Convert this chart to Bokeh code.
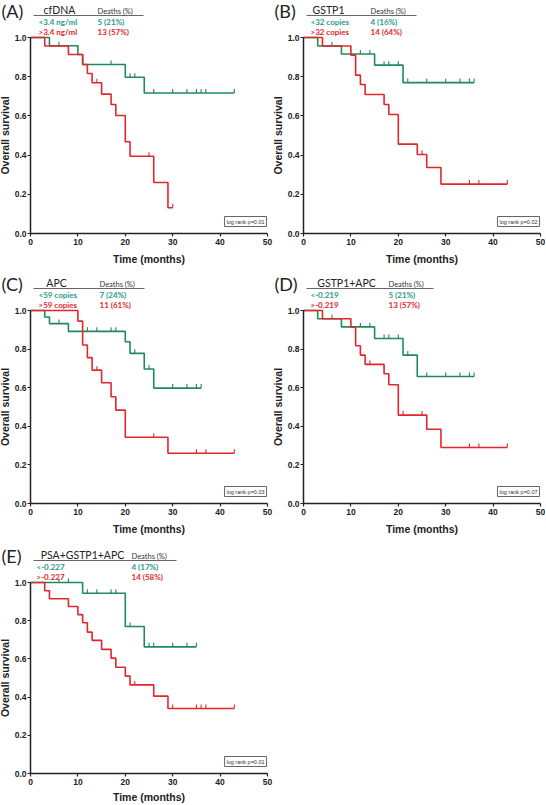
import numpy as np
from bokeh.plotting import figure
from bokeh.models import Range1d, Label, Arrow, FixedTicker, PrintfTickFormatter
from bokeh.layouts import column, row
from bokeh.embed import file_html
from bokeh.resources import INLINE

GREEN = "#1f8a5b"
RED = "#e3262b"
GREEN_TXT = "#2b9987"
RED_TXT = "#e3262b"

X_TICKS = [0, 10, 20, 30, 40, 50]
Y_TICKS = [0.0, 0.2, 0.4, 0.6, 0.8, 1.0]

# ---- Panel A: cfDNA ----
A_G_T = [4, 10, 11, 20, 24]
A_G_S = [0.958, 0.913, 0.862, 0.797, 0.717]
A_G_C = [6, 17, 21, 22, 26, 30, 33, 35, 36, 37, 43]
A_G_END = 43
A_R_T = [3, 8, 11, 12, 13, 15, 17, 18, 20, 21, 26, 29]
A_R_S = [0.957, 0.913, 0.862, 0.816, 0.769, 0.711, 0.658, 0.602, 0.468, 0.394, 0.260, 0.131]
A_R_C = [14, 25, 30]
A_R_END = 30

# ---- Panel B: GSTP1 ----
B_G_T = [3, 8, 15, 21]
B_G_S = [0.957, 0.916, 0.859, 0.770]
B_G_C = [6, 12, 14, 17, 18, 20, 22, 26, 30, 33, 35, 36]
B_G_END = 36
B_R_T = [4, 10, 11, 12, 13, 17, 18, 20, 24, 26, 29]
B_R_S = [0.957, 0.910, 0.808, 0.760, 0.709, 0.658, 0.607, 0.456, 0.403, 0.337, 0.252]
B_R_C = [25, 35, 37, 43]
B_R_END = 43

# ---- Panel C: APC ----
C_G_T = [3, 4, 8, 20, 21, 24, 26]
C_G_S = [0.966, 0.932, 0.892, 0.838, 0.778, 0.697, 0.598]
C_G_C = [6, 12, 14, 17, 18, 22, 25, 30, 33, 35, 36]
C_G_END = 36
C_R_T = [10, 11, 12, 13, 15, 17, 18, 20, 29]
C_R_S = [0.945, 0.821, 0.756, 0.691, 0.626, 0.553, 0.484, 0.343, 0.260]
C_R_C = [14, 26, 35, 37, 43]
C_R_END = 43

# ---- Panel D: GSTP1+APC ----
D_G_T = [3, 8, 15, 21, 24]
D_G_S = [0.957, 0.915, 0.855, 0.769, 0.658]
D_G_C = [6, 12, 14, 17, 18, 20, 22, 26, 30, 33, 35, 36]
D_G_END = 36
D_R_T = [4, 10, 11, 12, 13, 17, 18, 20, 26, 29]
D_R_S = [0.957, 0.913, 0.817, 0.769, 0.721, 0.672, 0.615, 0.458, 0.385, 0.290]
D_R_C = [14, 21, 25, 35, 37, 43]
D_R_END = 43

# ---- Panel E: PSA+GSTP1+APC ----
E_G_T = [11, 20, 24]
E_G_S = [0.944, 0.770, 0.663]
E_G_C = [6, 8, 12, 14, 17, 18, 21, 25, 26, 30, 33, 35]
E_G_END = 35
E_R_T = [3, 4, 8, 10, 11, 12, 13, 15, 17, 18, 20, 21, 26, 29]
E_R_S = [0.957, 0.915, 0.874, 0.832, 0.789, 0.740, 0.697, 0.650, 0.604, 0.556, 0.510, 0.464, 0.405, 0.340]
E_R_C = [22, 30, 35, 36, 37, 43]
E_R_END = 43

LETTERS = ["(A)", "(B)", "(C)", "(D)", "(E)"]
TITLES = ["cfDNA", "GSTP1", "APC", "GSTP1+APC", "PSA+GSTP1+APC"]
G_LABELS = ["<3.4 ng/ml", "<32 copies", "<59 copies", "<-0.219", "<-0.227"]
R_LABELS = [">3.4 ng/ml", ">32 copies", ">59 copies", ">-0.219", ">-0.227"]
G_DEATHS = ["5 (21%)", "4 (16%)", "7 (24%)", "5 (21%)", "4 (17%)"]
R_DEATHS = ["13 (57%)", "14 (64%)", "11 (61%)", "13 (57%)", "14 (58%)"]
PVALS = ["log rank p=0.01", "log rank p=0.02", "log rank p=0.03", "log rank p=0.07", "log rank p=0.01"]

PLOT_W = 237  # px from x=0 to x=50


def censor_levels(times, surv, cens):
    lv = np.array([1.0] + list(surv))
    idx = np.searchsorted(np.array(times, dtype=float), np.array(cens, dtype=float), side="right")
    return lv[idx]


def panel(i, g, r, W, H, B, left_px, top_px, title_cx, deaths_x, line_end, row_x, xlab_standoff):
    plot_h = H - B - top_px
    x0 = -left_px * 50.0 / PLOT_W
    x1 = x0 + W * 50.0 / PLOT_W
    y0 = -B / plot_h
    y1 = 1.0 + top_px / plot_h
    p = figure(width=W, height=H, x_range=Range1d(x0, x1), y_range=Range1d(y0, y1),
               output_backend="svg", toolbar_location=None,
               min_border_left=0, min_border_right=0, min_border_top=0, min_border_bottom=0)
    p.outline_line_color = None
    p.grid.visible = False
    p.background_fill_color = "white"
    p.border_fill_color = "white"

    def xd(px):
        return px * 50.0 / PLOT_W

    def yd(px):  # px above the 1.0 line
        return 1.0 + px / plot_h

    for (times, surv, cens, end, col) in (g + (GREEN,), r + (RED,)):
        xs = [0] + list(times) + [end]
        ys = [1.0] + list(surv) + [surv[-1]]
        p.step(xs, ys, mode="after", line_color=col, line_width=1.6)
        lv = censor_levels(times, surv, cens)
        tick = 4.0 / plot_h
        p.segment(x0=cens, y0=lv, x1=cens, y1=lv + tick, line_color=col, line_width=1.1)

    for ax in (p.xaxis[0], p.yaxis[0]):
        ax.axis_line_color = "#222222"
        ax.axis_line_width = 1.5
        ax.major_tick_line_color = "#222222"
        ax.major_tick_line_width = 1.2
        ax.major_tick_out = 3
        ax.major_tick_in = 0
        ax.minor_tick_line_color = None
        ax.major_label_text_font = "Liberation Sans"
        ax.major_label_text_font_style = "bold"
        ax.major_label_text_font_size = "8.5px"
        ax.major_label_text_color = "#222222"
        ax.major_label_standoff = 1
        ax.axis_label_text_font = "Liberation Sans"
        ax.axis_label_text_font_style = "bold"
        ax.axis_label_text_font_size = "10.5px"
        ax.axis_label_text_color = "#222222"
        ax.axis_label_standoff = 1
    p.xaxis.axis_label_standoff = xlab_standoff
    p.xaxis.major_label_standoff = 2
    p.xaxis.ticker = FixedTicker(ticks=X_TICKS)
    p.yaxis.ticker = FixedTicker(ticks=Y_TICKS)
    p.xaxis.bounds = (0, 50)
    p.yaxis.bounds = (0, 1)
    p.yaxis.fixed_location = 0
    p.xaxis.fixed_location = 0
    p.yaxis.formatter = PrintfTickFormatter(format="%.1f")
    p.xaxis.axis_label = "Time (months)"
    p.yaxis.axis_label = "Overall survival"

    # header
    p.add_layout(Label(x=xd(-left_px + 1), y=yd(27), text=LETTERS[i], text_font="Lato",
                       text_font_size="18px", text_color="#222222",
                       text_align="left", text_baseline="middle"))
    p.add_layout(Label(x=xd(title_cx), y=yd(27.5), text=TITLES[i], text_font="Lato",
                       text_font_size="10.5px", text_color="#222222",
                       text_align="center", text_baseline="middle"))
    p.add_layout(Label(x=xd(deaths_x), y=yd(26.5), text="Deaths (%)", text_font="Lato",
                       text_font_size="7.5px", text_color="#333333",
                       text_align="left", text_baseline="middle"))
    p.add_layout(Arrow(x_start=xd(3), y_start=yd(22), x_end=xd(line_end), y_end=yd(22),
                       start=None, end=None, line_color="#666666", line_width=1))
    for lab, dth, yy, col in ((G_LABELS[i], G_DEATHS[i], 16, GREEN_TXT),
                              (R_LABELS[i], R_DEATHS[i], 6, RED_TXT)):
        p.add_layout(Label(x=xd(row_x), y=yd(yy), text=lab, text_font="Lato",
                           text_font_style="bold", text_font_size="8px", text_color=col,
                           text_align="left", text_baseline="middle"))
        p.add_layout(Label(x=xd(deaths_x), y=yd(yy), text=dth, text_font="Lato",
                           text_font_style="bold", text_font_size="8px", text_color=col,
                           text_align="left", text_baseline="middle"))

    # log-rank box
    p.add_layout(Label(x=49.8, y=7.0 / plot_h, text=PVALS[i],
                       text_font="Liberation Sans", text_font_size="5.5px",
                       text_color="#333333", text_align="right", text_baseline="bottom",
                       border_line_color="#666666", border_line_width=1,
                       background_fill_color="white", padding=2))
    return p


pA = panel(0, (A_G_T, A_G_S, A_G_C, A_G_END), (A_R_T, A_R_S, A_R_C, A_R_END),
           273, 265, 32, 30, 37, 29, 67, 113, 8, 5)
pB = panel(1, (B_G_T, B_G_S, B_G_C, B_G_END), (B_R_T, B_R_S, B_R_C, B_R_END),
           272, 265, 32, 30, 37, 25, 67, 113, 7, 5)
pC = panel(2, (C_G_T, C_G_S, C_G_C, C_G_END), (C_R_T, C_R_S, C_R_C, C_R_END),
           273, 270, 32, 30, 45, 26, 69, 114, 8, 5)
pD = panel(3, (D_G_T, D_G_S, D_G_C, D_G_END), (D_R_T, D_R_S, D_R_C, D_R_END),
           272, 270, 32, 30, 45, 43, 85, 130, 7, 5)
pE = panel(4, (E_G_T, E_G_S, E_G_C, E_G_END), (E_R_T, E_R_S, E_R_C, E_R_END),
           273, 268, 30, 30, 47, 52, 101, 146, 6, 3)

layout = column(row(pA, pB), row(pC, pD), row(pE))
open("out.html", "w").write(file_html(layout, INLINE))
